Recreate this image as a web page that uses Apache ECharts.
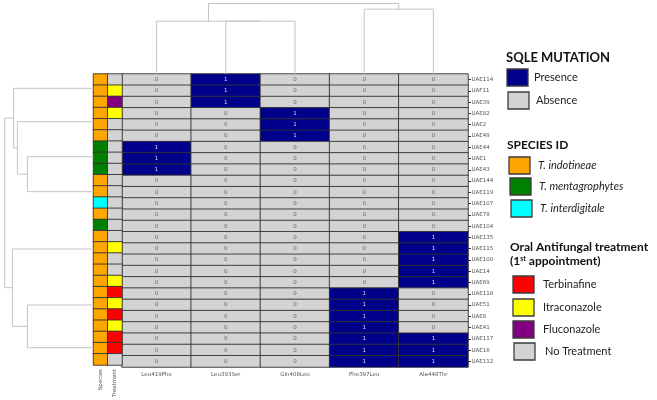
<!DOCTYPE html>
<html>
<head>
<meta charset="utf-8">
<script src="https://cdn.jsdelivr.net/npm/echarts/dist/echarts.min.js"></script>
<style>
  html, body { margin: 0; padding: 0; background: #fff; }
  #chart { width: 657px; height: 400px; }
</style>
</head>
<body>
<div id="chart"></div>
<script>
// rows, top to bottom
var rowNames = ['UAE114', 'UAF11', 'UAE39', 'UAE82', 'UAE2', 'UAE49', 'UAE44', 'UAE1', 'UAE43',
  'UAE144', 'UAE119', 'UAE107', 'UAE78', 'UAE104', 'UAE135', 'UAE115', 'UAE100', 'UAE14', 'UAE69',
  'UAE118', 'UAE51', 'UAE8', 'UAE41', 'UAE117', 'UAE16', 'UAE112'];
var mutations = ['Leu419Phe', 'Leu393Ser', 'Gln408Leu', 'Phe397Leu', 'Ala448Thr'];

// presence (1) / absence (0) for each mutation
var leu419Phe = [0,0,0,0,0,0,1,1,1,0,0,0,0,0,0,0,0,0,0,0,0,0,0,0,0,0];
var leu393Ser = [1,1,1,0,0,0,0,0,0,0,0,0,0,0,0,0,0,0,0,0,0,0,0,0,0,0];
var gln408Leu = [0,0,0,1,1,1,0,0,0,0,0,0,0,0,0,0,0,0,0,0,0,0,0,0,0,0];
var phe397Leu = [0,0,0,0,0,0,0,0,0,0,0,0,0,0,0,0,0,0,0,1,1,1,1,1,1,1];
var ala448Thr = [0,0,0,0,0,0,0,0,0,0,0,0,0,0,1,1,1,1,1,0,0,0,0,1,1,1];

// species: ind = T. indotineae, men = T. mentagrophytes, int = T. interdigitale
var species = ['ind','ind','ind','ind','ind','ind','men','men','men','ind','ind','int','ind','men',
  'ind','ind','ind','ind','ind','ind','ind','ind','ind','ind','ind','ind'];
// treatment: T = Terbinafine, I = Itraconazole, F = Fluconazole, N = none
var treatment = ['N','I','F','I','N','N','N','N','N','N','N','N','N','N',
  'N','I','N','N','I','T','I','T','I','T','T','N'];

// dendrograms: leaf positions and merges [childA, childB, height]
var rowLeafPos = [0.77, 3.73, 6.84, 9.94, 15.03, 20.0, 23.79];
var rowMerges = [[2, 3, 0.744], [1, 7, 0.857], [0, 8, 0.90], [5, 6, 0.744], [4, 10, 0.914], [9, 11, 1.0]];
var colLeafPos = [0, 1, 2, 3, 4];
var colMerges = [[1, 2, 0.75], [0, 5, 0.75], [3, 4, 0.92], [6, 7, 1.0]];

var speciesCode = { ind: 1, men: 2, int: 3 };
var treatCode = { N: 4, T: 5, I: 6, F: 7 };

function buildElbows(leafPos, merges) {
  var pos = leafPos.slice();
  var hgt = leafPos.map(function () { return 0; });
  var out = [];
  merges.forEach(function (m) {
    var a = m[0], b = m[1];
    out.push([pos[a], hgt[a], pos[b], hgt[b], m[2]]);
    pos.push((pos[a] + pos[b]) / 2);
    hgt.push(m[2]);
  });
  return out;
}

var mutData = [];
[leu419Phe, leu393Ser, gln408Leu, phe397Leu, ala448Thr].forEach(function (arr, x) {
  arr.forEach(function (v, y) {
    mutData.push({ value: [x, y, v], label: { color: v ? '#d8d8e8' : '#666' } });
  });
});
var annData = [];
rowNames.forEach(function (n, y) {
  annData.push([0, y, speciesCode[species[y]]]);
  annData.push([1, y, treatCode[treatment[y]]]);
});

var chart = echarts.init(document.getElementById('chart'));

var lineColor = '#c4c4c4';
function dendroRender(horizontal) {
  return function (params, api) {
    var a = api.value(0), ha = api.value(1), b = api.value(2), hb = api.value(3), h = api.value(4);
    var pts;
    if (horizontal) {
      pts = [api.coord([ha, a]), api.coord([h, a]), api.coord([h, b]), api.coord([hb, b])];
    } else {
      pts = [api.coord([a, ha]), api.coord([a, h]), api.coord([b, h]), api.coord([b, hb])];
    }
    return { type: 'polyline', shape: { points: pts }, style: { stroke: lineColor, lineWidth: 1, fill: null } };
  };
}

var fontFam = 'Lato, "Noto Sans", sans-serif';
var graphics = [];
function title(text, x, y, spacing) {
  graphics.push({ type: 'text', style: { text: text, x: x, y: y, font: 'bold 12px ' + fontFam, fill: '#111', textVerticalAlign: 'middle' } });
}
function item(label, color, bx, by, tx, italic) {
  graphics.push({ type: 'rect', shape: { x: bx, y: by - 8.5, width: 21, height: 17 }, style: { fill: color, stroke: '#3c3c3c', lineWidth: 1.3 } });
  graphics.push({ type: 'text', style: { text: label, x: tx, y: by, font: (italic ? 'italic ' : '') + '11px ' + fontFam, fill: '#222', textVerticalAlign: 'middle' } });
}
graphics.push({ type: 'text', style: { text: 'SQLE MUTATION', x: 506, y: 58, font: 'bold 13px ' + fontFam, fill: '#111', textVerticalAlign: 'middle' } });
item('Presence', '#00008b', 507, 77.5, 534);
item('Absence', '#d3d3d3', 508, 100.5, 536);
title('SPECIES ID', 507, 145);
item('T. indotineae', '#ffa500', 509, 165.5, 538, true);
item('T. mentagrophytes', '#008000', 510, 186.5, 539, true);
item('T. interdigitale', '#00ffff', 511, 208.5, 540, true);
title('Oral Antifungal treatment', 510, 247);
graphics.push({ type: 'text', style: { text: '(1{s|st} appointment)', x: 510, y: 261, font: 'bold 12px ' + fontFam, fill: '#111', textVerticalAlign: 'middle',
  rich: { s: { fontSize: 7, fontWeight: 'bold', fontFamily: 'Lato', verticalAlign: 'top', fill: '#111' } } } });
item('Terbinafine', '#ff0000', 513, 284.5, 543);
item('Itraconazole', '#ffff00', 513, 307.5, 543);
item('Fluconazole', '#800080', 513, 329.5, 543);
item('No Treatment', '#d3d3d3', 514, 351.5, 545);

var tinyLabel = { fontSize: 5.5, color: '#555', fontFamily: 'DejaVu Sans' };

chart.setOption({
  animation: false,
  grid: [
    { left: 122, top: 74, width: 346, height: 293 },
    { left: 93.5, top: 74, width: 28.5, height: 293 },
    { left: 0, top: 74, width: 93.5, height: 293 },
    { left: 122, top: 0, width: 346, height: 74 }
  ],
  xAxis: [
    { type: 'category', gridIndex: 0, data: mutations, axisLine: { show: false }, axisTick: { show: false },
      axisLabel: Object.assign({ margin: 5, interval: 0 }, tinyLabel) },
    { type: 'category', gridIndex: 1, data: ['Species', 'Treatment'], axisLine: { show: false }, axisTick: { show: false },
      axisLabel: Object.assign({ margin: 4, interval: 0, rotate: 90 }, tinyLabel) },
    { type: 'value', gridIndex: 2, min: 0, max: 1.053, inverse: true, show: false },
    { type: 'value', gridIndex: 3, min: -0.5, max: 4.5, show: false }
  ],
  yAxis: [
    { type: 'category', gridIndex: 0, data: rowNames, inverse: true, position: 'right', axisLine: { show: false },
      axisTick: { show: true, length: 3, alignWithLabel: true, lineStyle: { color: '#333' } },
      axisLabel: Object.assign({ margin: 3.5, interval: 0 }, tinyLabel) },
    { type: 'category', gridIndex: 1, data: rowNames, inverse: true, show: false },
    { type: 'value', gridIndex: 2, min: -0.5, max: 25.5, inverse: true, show: false },
    { type: 'value', gridIndex: 3, min: 0, max: 1.05, show: false }
  ],
  visualMap: [
    { type: 'piecewise', show: false, seriesIndex: 0, dimension: 2,
      pieces: [{ value: 0, color: '#d3d3d3' }, { value: 1, color: '#00008b' }] },
    { type: 'piecewise', show: false, seriesIndex: 1, dimension: 2,
      pieces: [{ value: 1, color: '#ffa500' }, { value: 2, color: '#008000' }, { value: 3, color: '#00ffff' },
        { value: 4, color: '#d3d3d3' }, { value: 5, color: '#ff0000' }, { value: 6, color: '#ffff00' }, { value: 7, color: '#800080' }] }
  ],
  series: [
    { type: 'heatmap', xAxisIndex: 0, yAxisIndex: 0, data: mutData,
      itemStyle: { borderColor: '#333', borderWidth: 0.9 },
      label: { show: true, fontSize: 5.5, fontFamily: 'DejaVu Sans' }, emphasis: { disabled: true } },
    { type: 'heatmap', xAxisIndex: 1, yAxisIndex: 1, data: annData,
      itemStyle: { borderColor: '#333', borderWidth: 0.9 }, emphasis: { disabled: true } },
    { type: 'custom', xAxisIndex: 2, yAxisIndex: 2, data: buildElbows(rowLeafPos, rowMerges),
      renderItem: dendroRender(true), silent: true },
    { type: 'custom', xAxisIndex: 3, yAxisIndex: 3, data: buildElbows(colLeafPos, colMerges),
      renderItem: dendroRender(false), silent: true }
  ],
  graphic: graphics
});
</script>
</body>
</html>
